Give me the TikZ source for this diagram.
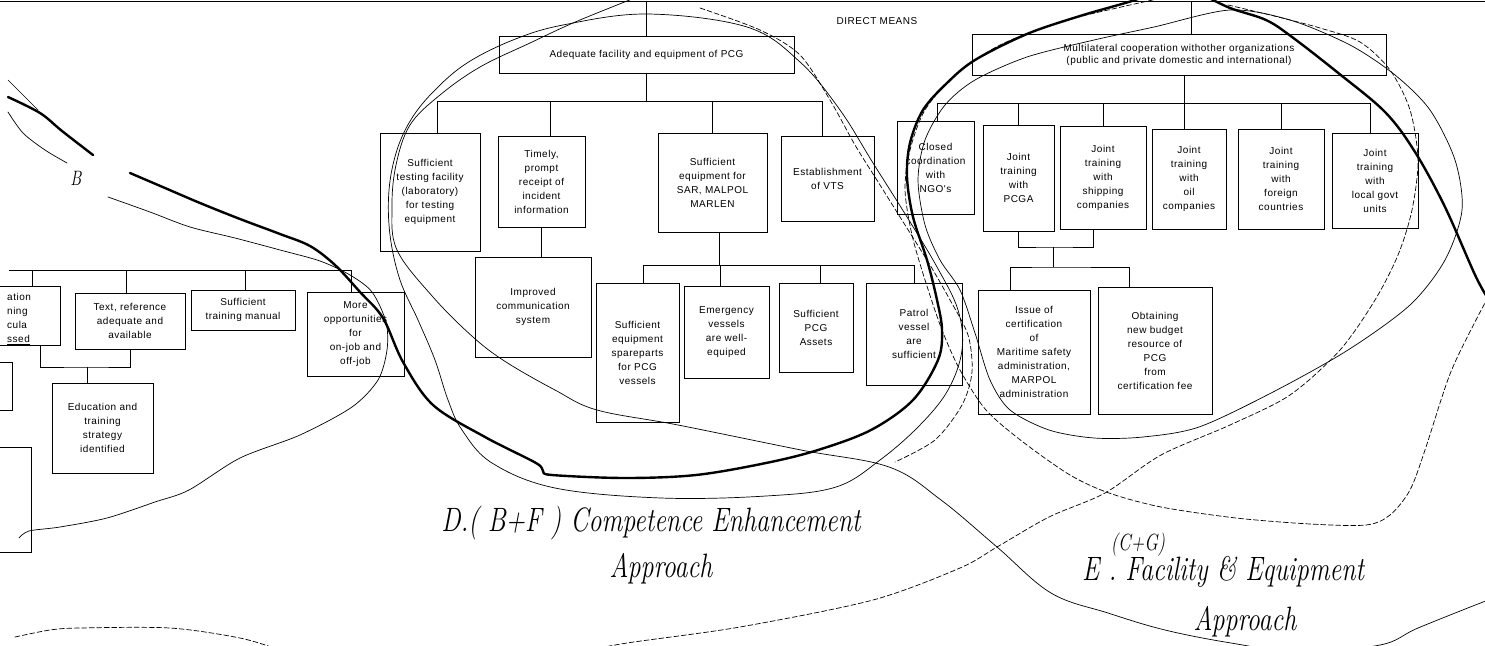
\documentclass[tikz,border=0pt]{standalone}
\usepackage{fontspec}
\newfontfamily\boxfont[LetterSpace=5]{Liberation Sans}
\usetikzlibrary{calc}
\begin{document}
\begin{tikzpicture}[x=1pt,y=-1pt,
  box/.style={draw, line width=0.9pt, inner sep=1pt, align=center,
              font=\boxfont\fontsize{10}{14}\selectfont},
  link/.style={line width=0.9pt},
  hand/.style={line width=0.7pt, line cap=round, line join=round},
  handthick/.style={line width=2.4pt, line cap=round, line join=round},
  handdash/.style={hand, dash pattern=on 5pt off 2.5pt},
  script/.style={font=\itshape\fontsize{26}{30}\selectfont, inner sep=0pt, yscale=1.3}
]
\useasboundingbox (0,0) rectangle (1485,645);
\clip (0,0) rectangle (1485,645);

% ---------- heading ----------
\node[font=\boxfont\fontsize{10}{12}\selectfont] (dm) at (877,21) {DIRECT MEANS};

% ---------- facility and equipment tree ----------
\node[box, minimum width=295pt, minimum height=37pt] (adq) at (646.5,54.5) {Adequate facility and equipment of PCG};
\node[box, minimum width=100pt, minimum height=118pt] (b1) at (430,192) {Sufficient\\testing facility\\(laboratory)\\for testing\\equipment};
\node[box, minimum width=87pt, minimum height=91pt] (b2) at (541.5,181.5) {Timely,\\prompt\\receipt of\\incident\\information};
\node[box, minimum width=109pt, minimum height=99pt] (b3) at (712.5,182.5) {Sufficient\\equipment for\\SAR, MALPOL\\MARLEN};
\node[box, minimum width=93pt, minimum height=85pt] (b4) at (827.5,178.5) {Establishment\\of VTS};
\node[box, minimum width=116pt, minimum height=100pt] (comm) at (533,307) {Improved\\communication\\system};
\node[box, minimum width=83pt, minimum height=139pt] (spare) at (637.5,352.5) {Sufficient\\equipment\\spareparts\\for PCG\\vessels};
\node[box, minimum width=85pt, minimum height=92pt] (emer) at (726.5,332) {Emergency\\vessels\\are well-\\equiped};
\node[box, minimum width=74pt, minimum height=89pt] (asset) at (816,327.5) {Sufficient\\PCG\\Assets};
\node[box, minimum width=96pt, minimum height=102pt] (patrol) at (914,334) {Patrol\\vessel\\are\\sufficient};

% ---------- cooperation tree ----------
\node[box, minimum width=414pt, minimum height=41pt, font=\boxfont\fontsize{10}{12}\selectfont] (multi) at (1179,54.5) {Multilateral cooperation withother organizations\\(public and private domestic and international)};
\node[box, minimum width=77pt, minimum height=93pt] (ngo) at (935.5,167.5) {Closed\\coordination\\with\\NGO's};
\node[box, minimum width=71pt, minimum height=106pt] (pcga) at (1018.5,178) {Joint\\training\\with\\PCGA};
\node[box, minimum width=86pt, minimum height=103pt] (ship) at (1103,177.5) {Joint\\training\\with\\shipping\\companies};
\node[box, minimum width=74pt, minimum height=100pt] (oil) at (1189,179) {Joint\\training\\with\\oil\\companies};
\node[box, minimum width=86pt, minimum height=100pt] (frgn) at (1281,179) {Joint\\training\\with\\foreign\\countries};
\node[box, minimum width=86pt, minimum height=95pt] (lgu) at (1375,180.5) {Joint\\training\\with\\local govt\\units};
\node[box, minimum width=112pt, minimum height=124pt] (issue) at (1034,352) {Issue of\\certification\\of\\Maritime safety\\administration,\\MARPOL\\administration};
\node[box, minimum width=114pt, minimum height=127pt] (obt) at (1155,350.5) {Obtaining\\new budget\\resource of\\PCG\\from\\certification fee};

% ---------- training tree (left) ----------
\node[box, minimum width=80pt, minimum height=59pt] (eval) at (20,315.5) {};
\node[font=\boxfont\fontsize{10}{14}\selectfont, align=left, anchor=west, inner sep=0pt] (evaltxt) at (7,319) {ation\\ning\\cula\\\underline{ssed}};
\node[box, minimum width=110pt, minimum height=56pt] (ref) at (130,321) {Text, reference\\adequate and\\available};
\node[box, minimum width=104pt, minimum height=40pt] (manual) at (243,310) {Sufficient\\training manual};
\node[box, minimum width=97pt, minimum height=84pt] (opp) at (355.5,334) {More\\opportunities\\for\\on-job and\\off-job};
\node[box, minimum width=101pt, minimum height=90pt] (edu) at (102.5,428) {Education and\\training\\strategy\\identified};
\node[box, minimum width=52pt, minimum height=48pt] (brk) at (-14,386) {};
\node[box, minimum width=71pt, minimum height=105pt] (lbox) at (-4.5,499.5) {};

% ---------- connectors ----------
\coordinate (topL) at (0,1.5);
\coordinate (topR) at (1485,1.5);
\draw[link, line width=1.6pt] (topL) -- (topR);
\draw[link] (adq.north) -- (adq.north |- topL);
\draw[link] ([xshift=12pt]multi.north) -- ([xshift=12pt]multi.north |- topL);

\coordinate (bus1) at (0,101);
\draw[link] (adq.south) -- (adq.south |- bus1);
\draw[link] ([xshift=7pt]b1.north) -- ([xshift=7pt]b1.north |- bus1) -- ([xshift=-5pt]b4.north |- bus1) -- ([xshift=-5pt]b4.north);
\draw[link] ([xshift=9pt]b2.north) -- ([xshift=9pt]b2.north |- bus1);
\draw[link] (b3.north) -- (b3.north |- bus1);
\draw[link] (b2.south) -- (b2.south |- comm.north);

\coordinate (bus2) at (0,265);
\draw[link] ([xshift=7pt]b3.south) -- ([xshift=7pt]b3.south |- bus2);
\draw[link] ([xshift=6pt]spare.north) -- ([xshift=6pt]spare.north |- bus2) -- (patrol.north |- bus2) -- (patrol.north);
\draw[link] ([xshift=-6pt]emer.north) -- ([xshift=-6pt]emer.north |- bus2);
\draw[link] ([xshift=4pt]asset.north) -- ([xshift=4pt]asset.north |- bus2);

\coordinate (bus3) at (0,103);
\draw[link] ([xshift=5pt]multi.south) -- ([xshift=5pt]multi.south |- bus3);
\draw[link] ([xshift=1.5pt]ngo.north) -- ([xshift=1.5pt]ngo.north |- bus3) -- ([xshift=-5pt]lgu.north |- bus3) -- ([xshift=-5pt]lgu.north);
\draw[link] (pcga.north) -- (pcga.north |- bus3);
\draw[link] (ship.north) -- (ship.north |- bus3);
\draw[link] ([xshift=-5pt]oil.north) -- ([xshift=-5pt]oil.north |- bus3);
\draw[link] (frgn.north) -- (frgn.north |- bus3);

\coordinate (j1) at (1053,247);
\coordinate (j2) at (1053,267);
\draw[link] (pcga.south) |- (j1) -| ([xshift=-10pt]ship.south);
\draw[link] (j1) -- (j2);
\draw[link] ([xshift=-24pt]issue.north) |- (j2) -| ([xshift=-26pt]obt.north);

\coordinate (lbus) at (9,270);
\draw[link] (lbus) -- ([xshift=-4pt]opp.north |- lbus) -- ([xshift=-4pt]opp.north);
\draw[link] ([xshift=12pt]eval.north) -- ([xshift=12pt]eval.north |- lbus);
\draw[link] ([xshift=-4pt]ref.north) -- ([xshift=-4pt]ref.north |- lbus);
\draw[link] ([xshift=2pt]manual.north) -- ([xshift=2pt]manual.north |- lbus);
\coordinate (ej) at (87,367);
\draw[link] ([xshift=20pt]eval.south) |- (ej) -| (ref.south);
\draw[link] (ej) -- (ej |- edu.north);

% ---------- hand-drawn grouping strokes ----------
\draw[handthick] plot[smooth, tension=0.55] coordinates {(8,97) (40,113) (62,131) (93,155)};
\draw[handthick] plot[smooth, tension=0.55] coordinates {(130,173) (165,188) (200,203) (240,219) (280,234) (310,246) (335,265) (360,292) (383,318) (403,362) (433,405) (485,437) (536,463) (543,471) (552,475) (625,478) (696,475) (766,463) (818,450) (871,430) (913,400) (938,360) (942,330) (937,300) (927,260) (913,217) (907,177) (910,143) (923,110) (947,83) (975,60) (1027,34) (1080,16) (1135,0) (1172,-14) (1200,-6) (1230,8) (1266,20) (1292,37) (1337,72) (1385,112) (1415,152) (1445,207) (1476,277) (1492,305)};

\draw[hand] plot[smooth] coordinates {(8,80) (22,94) (38,110)};
\draw[hand] plot[smooth] coordinates {(8,112) (23,133) (45,150) (67,163)};
\draw[hand] plot[smooth] coordinates {(108,197) (150,212) (190,227) (235,238) (280,250) (320,261) (350,275) (372,292) (386,322) (387,350) (378,380) (352,407) (300,435) (240,458) (189,490) (155,502) (107,518) (60,527) (29,531) (19,538)};

\draw[hand] plot[smooth cycle, tension=0.6] coordinates {(647,14) (747,27) (800,62) (840,110) (873,163) (907,217) (937,267) (958,310) (962,350) (948,390) (920,425) (880,460) (836,487) (766,496) (661,498) (555,488) (492,463) (462,430) (448,400) (435,360) (418,320) (400,280) (390,235) (389,190) (397,150) (412,118) (435,90) (467,63) (513,40) (563,25)};

\draw[hand] plot[smooth, tension=0.6] coordinates {(660,-12) (580,20) (530,43) (480,67) (440,95) (410,125) (396,165) (392,207) (397,250) (433,297) (473,337) (506,362) (555,390) (597,410) (678,425) (801,450) (889,467) (941,500) (997,547) (1051,593) (1108,613) (1165,630) (1231,643) (1300,652) (1380,645) (1418,628) (1483,602) (1500,596)};

\draw[handdash] plot[smooth] coordinates {(700,8) (760,30) (800,55) (830,100) (855,145) (880,185) (905,225) (930,265) (950,300) (968,335) (972,372) (962,405) (935,440) (895,462)};

\draw[handdash] plot[smooth] coordinates {(1228,5) (1270,15) (1320,28) (1360,42) (1390,70) (1410,110) (1418,160) (1412,210) (1398,255) (1375,300) (1340,350) (1290,395) (1230,425) (1161,455) (1105,493) (1049,517) (997,547) (960,568) (873,600) (740,627) (627,643) (580,652)};

\draw[hand] plot[smooth cycle] coordinates {(960,290) (975,333) (990,380) (1010,410) (1049,430) (1094,438) (1143,437) (1199,427) (1273,392) (1348,350) (1410,305) (1445,260) (1462,210) (1455,160) (1430,110) (1395,75) (1350,45) (1290,20) (1230,10) (1154,27) (1094,40) (1027,57) (975,80) (945,105) (925,140) (918,180) (925,225) (940,260)};

\draw[handdash] plot[smooth] coordinates {(1190,-8) (1130,5) (1060,22) (1000,45) (955,75) (925,110) (910,150) (905,190) (912,235) (925,280) (942,330) (960,370) (986,410) (1023,442) (1070,475) (1109,493) (1161,507) (1236,518) (1310,524) (1366,525) (1390,515) (1410,490) (1425,450) (1450,374) (1477,318) (1495,285)};

\draw[handdash] plot[smooth] coordinates {(15,637) (50,630) (80,628) (170,628) (240,638) (280,650)};

% ---------- handwritten labels ----------
\node[script, font=\itshape\fontsize{16}{18}\selectfont] (blab) at (76,178) {B};
\node[script] (dlab) at (651,523) {D.( B+F ) Competence Enhancement};
\node[script] (dapp) at (661,569) {Approach};
\node[script, anchor=west] (elab) at (1082,572) {E . Facility \& Equipment};
\node[script, font=\itshape\fontsize{18}{20}\selectfont] (ecg) at (1138,545) {(C+G)};
\node[script] (eapp) at (1245,622) {Approach};
\end{tikzpicture}
\end{document}
